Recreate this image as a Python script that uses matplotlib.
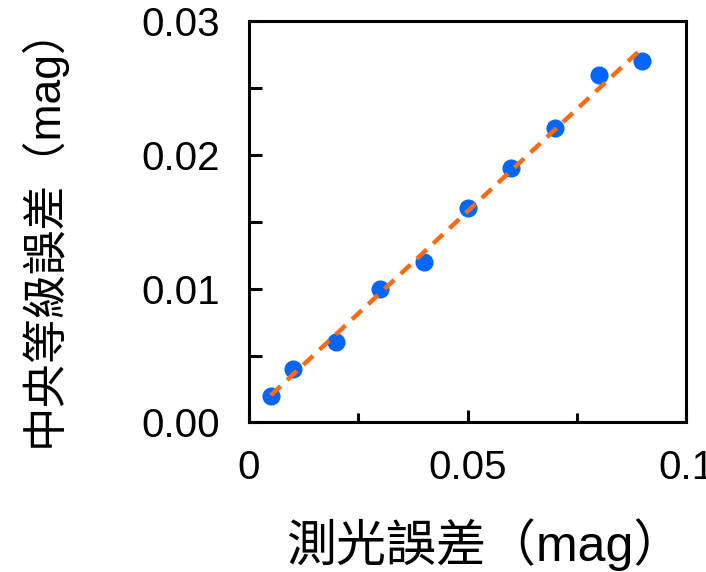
import numpy as np
import matplotlib
matplotlib.use("Agg")
import matplotlib.pyplot as plt
from matplotlib.ticker import MultipleLocator, FixedFormatter, FixedLocator

plt.rcParams['font.family'] = ['Liberation Sans', 'Noto Sans CJK TC', 'DejaVu Sans']

# photometric error vs. median magnitude error
phot_err = [0.005, 0.01, 0.02, 0.03, 0.04, 0.05, 0.06, 0.07, 0.08, 0.09]
median_err = [0.002, 0.004, 0.006, 0.010, 0.012, 0.016, 0.019, 0.022, 0.026, 0.027]

x_ticks = [0, 0.05, 0.1]
x_tick_labels = ['0', '0.05', '0.1']
y_ticks = [0, 0.01, 0.02, 0.03]
y_tick_labels = ['0.00', '0.01', '0.02', '0.03']

fig = plt.figure(figsize=(7.06, 5.72), dpi=100)
ax = fig.add_axes([0.3527, 0.2614, 0.6190, 0.7019])

ax.scatter(phot_err, median_err, s=170, color='#0066ff', zorder=2, linewidths=0)

slope, icpt = np.polyfit(phot_err, median_err, 1)
xf = np.array([phot_err[0], phot_err[-1]])
ax.plot(xf, slope * xf + icpt, color='#ff6a13', lw=3.2, dashes=(3, 2), zorder=3)

ax.set_xlim(0, 0.1)
ax.set_ylim(0, 0.03)
ax.xaxis.set_major_locator(FixedLocator(x_ticks))
ax.xaxis.set_major_formatter(FixedFormatter(x_tick_labels))
ax.xaxis.set_minor_locator(MultipleLocator(0.025))
ax.yaxis.set_major_locator(FixedLocator(y_ticks))
ax.yaxis.set_major_formatter(FixedFormatter(y_tick_labels))
ax.yaxis.set_minor_locator(MultipleLocator(0.005))

for s in ax.spines.values():
    s.set_linewidth(2.2)
ax.tick_params(axis='x', which='major', direction='in', length=8.5, width=2.2,
               labelsize=29, pad=19)
ax.tick_params(axis='x', which='minor', direction='in', length=6.5, width=2.2)
ax.tick_params(axis='y', which='both', direction='in', length=9, width=2.2,
               labelsize=29, pad=21)

ax.set_xlabel('測光誤差（mag）', fontsize=36, va='center')
ax.xaxis.set_label_coords(0.54, -0.305)
ax.set_ylabel('中央等級誤差（mag）', fontsize=32, va='center')
ax.yaxis.set_label_coords(-0.474, 0.49)

fig.savefig('out.png', dpi=100)
